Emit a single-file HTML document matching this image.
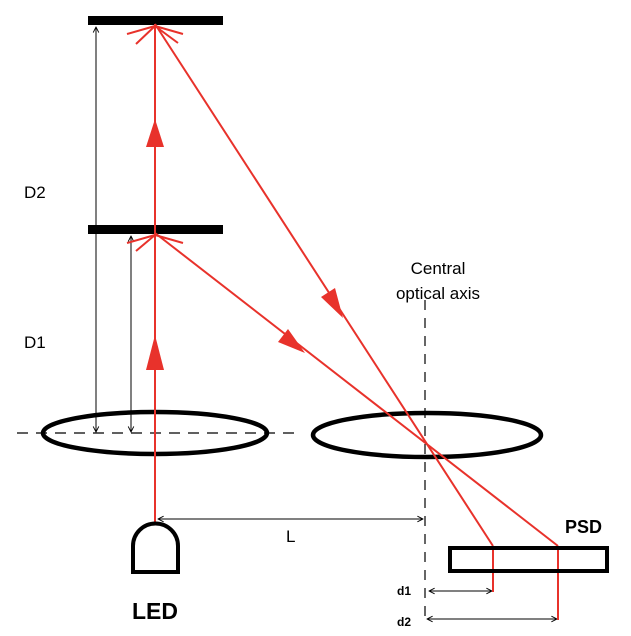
<!DOCTYPE html>
<html><head><style>body{margin:0;background:#fff}svg{display:block}</style></head><body>
<svg width="631" height="636" viewBox="0 0 631 636" xmlns="http://www.w3.org/2000/svg" font-family="Liberation Sans, sans-serif">
<defs>
<marker id="oa" viewBox="0 0 10 10" refX="9" refY="5" markerWidth="7" markerHeight="7" orient="auto-start-reverse"><path d="M1 1 L9 5 L1 9" fill="none" stroke="#000" stroke-width="1.3"/></marker>
</defs>
<rect x="88" y="16" width="135" height="9" fill="#000"/>
<rect x="88" y="225" width="135" height="9" fill="#000"/>
<line x1="17" y1="433" x2="298" y2="433" stroke="#000" stroke-width="1.2" stroke-dasharray="11,8"/>
<line x1="425" y1="300" x2="425" y2="622" stroke="#000" stroke-width="1.2" stroke-dasharray="10,8"/>
<ellipse cx="155" cy="433" rx="112" ry="21" fill="none" stroke="#000" stroke-width="4.5"/>
<ellipse cx="427" cy="435" rx="114" ry="22" fill="none" stroke="#000" stroke-width="4.5"/>
<line x1="96" y1="27" x2="96" y2="432" stroke="#000" stroke-width="1" marker-start="url(#oa)" marker-end="url(#oa)"/>
<line x1="131" y1="236" x2="131" y2="432" stroke="#000" stroke-width="1" marker-start="url(#oa)" marker-end="url(#oa)"/>
<line x1="158" y1="519" x2="423" y2="519" stroke="#000" stroke-width="1" marker-start="url(#oa)" marker-end="url(#oa)"/>
<line x1="429" y1="591" x2="492" y2="591" stroke="#000" stroke-width="1" marker-start="url(#oa)" marker-end="url(#oa)"/>
<line x1="427" y1="619" x2="557" y2="619" stroke="#000" stroke-width="1" marker-start="url(#oa)" marker-end="url(#oa)"/>
<g stroke="#e8322b" stroke-width="2" fill="none">
<line x1="155" y1="24" x2="155" y2="523"/>
<line x1="155" y1="24" x2="493" y2="546"/>
<line x1="155" y1="233" x2="558" y2="546"/>
<line x1="493" y1="546" x2="493" y2="592"/>
<line x1="558" y1="546" x2="558" y2="620"/>
<path d="M155 26 L127 34 M155 26 L136 44 M155 26 L183 34 M155 26 L178 43"/>
<path d="M155 235 L127 243 M155 235 L136 251 M155 235 L183 243"/>
</g>
<g fill="#e8322b">
<polygon points="155,119 146,147 164,147"/>
<polygon points="155,335 146,370 164,370"/>
<polygon points="343,318 321,297 335,288"/>
<polygon points="305,353 278,342 288,329"/>
</g>
<rect x="450" y="548" width="157" height="23" fill="none" stroke="#000" stroke-width="4"/>
<path d="M133 572 L133 546 A22 22 0 0 1 178 546 L178 572 Z" fill="none" stroke="#000" stroke-width="4"/>
<g font-size="17" fill="#000">
<text x="24" y="198">D2</text>
<text x="24" y="348">D1</text>
<text x="286" y="542">L</text>
<text x="438" y="274" text-anchor="middle">Central</text>
<text x="438" y="299" text-anchor="middle">optical axis</text>
</g>
<text x="155" y="619" font-size="23" font-weight="bold" text-anchor="middle">LED</text>
<text x="565" y="533" font-size="18" font-weight="bold">PSD</text>
<text x="397" y="595" font-size="12" font-weight="bold">d1</text>
<text x="397" y="626" font-size="12" font-weight="bold">d2</text>
</svg>
</body></html>
